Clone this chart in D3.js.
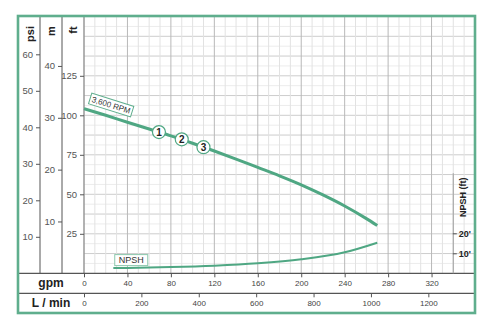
<!DOCTYPE html>
<html><head><meta charset="utf-8">
<script src="https://cdn.jsdelivr.net/npm/d3@7/dist/d3.min.js"></script>
<style>body{margin:0;background:#fff}svg{display:block;font-family:"Liberation Sans",Arial,sans-serif}</style>
</head><body>
<script>
// ---- data ----
const headGpm = [0, 20, 40, 60, 80, 100, 120, 140, 160, 180, 200, 220, 240, 260, 270];
const headFt  = [104.2, 100, 95.6, 91.3, 87, 82.3, 77.4, 72.3, 67.0, 61.7, 56.0, 49.6, 42.6, 34.6, 30.2];
const npshGpm = [27, 40, 80, 120, 160, 200, 240, 270];
const npshFt  = [2.6, 2.7, 3.1, 3.8, 5.0, 7.0, 10.5, 15.3];
const markerLabels = ["1", "2", "3"];
const markerGpm = [69, 90, 110];
const markerFt = [89.4, 84.8, 79.8];
const psiTicks = [10, 20, 30, 40, 50, 60];
const mTicks = [10, 20, 30, 40];
const ftTicks = [25, 50, 75, 100, 125];
const npshTicks = [10, 20];
const gpmTicks = [0, 40, 80, 120, 160, 200, 240, 280, 320];
const lpmTicks = [0, 200, 400, 600, 800, 1000, 1200];
const curveLabel = "3,600 RPM";
const npshLabel = "NPSH";

const W = 497, H = 332;
const green = "#5fae8d", lineGreen = "#4fa783";
const L = 18, R = 475, T = 16, B = 313, X0 = 84, YG = 273.3, YL = 293.3;
const ftMax = (YG - T) / 1.58;

const svg = d3.select("body").append("svg").attr("width", W).attr("height", H);

const x = d3.scaleLinear().domain([0, 360]).range([X0, R]);
const xL = d3.scaleLinear().domain([0, 360 * 3.785]).range([X0, R]);
const yFt = d3.scaleLinear().domain([0, ftMax]).range([YG, T]);
const yPsi = d3.scaleLinear().domain([0, ftMax / 2.31]).range([YG, T]);
const yM = d3.scaleLinear().domain([0, ftMax * 0.3048]).range([YG, T]);
const yN = d3.scaleLinear().domain([0, 10]).range([YG, YG - 20]);

// grid
const g = svg.append("g");
d3.range(6.25, ftMax, 6.25).forEach(v => {
  const major = Math.abs(v / 12.5 - Math.round(v / 12.5)) < 1e-6;
  g.append("line").attr("x1", X0).attr("x2", R).attr("y1", yFt(v)).attr("y2", yFt(v))
    .attr("stroke", major ? "#cdcdcd" : "#ececec").attr("stroke-width", 1);
});
d3.range(10, 360, 10).forEach(v => {
  const major = v % 40 === 0;
  g.append("line").attr("y1", T).attr("y2", YG).attr("x1", x(v)).attr("x2", x(v))
    .attr("stroke", major ? "#b8b8b8" : "#e2e2e2").attr("stroke-width", 1);
});

// separators
[40, 62].forEach(px => svg.append("line").attr("x1", px).attr("x2", px).attr("y1", T).attr("y2", YG)
  .attr("stroke", "#555").attr("stroke-width", 1));
svg.append("line").attr("x1", X0).attr("x2", X0).attr("y1", T).attr("y2", YG).attr("stroke", "#999").attr("stroke-width", 1.5);
[YG, YL].forEach(py => svg.append("line").attr("x1", L).attr("x2", R).attr("y1", py).attr("y2", py)
  .attr("stroke", "#555").attr("stroke-width", 1.2));

const fmt = d3.format("d");

// left axes
function leftAxis(scale, ticks, px) {
  const a = svg.append("g").attr("transform", `translate(${px},0)`)
    .call(d3.axisLeft(scale).tickValues(ticks).tickSize(4).tickPadding(3).tickFormat(fmt));
  a.select(".domain").remove();
  a.selectAll("line").attr("stroke", "#555");
  a.selectAll("text").attr("font-size", 9.5).attr("fill", "#555").attr("font-family", "Liberation Sans, Arial, sans-serif");
}
leftAxis(yPsi, psiTicks, 40);
leftAxis(yM, mTicks, 62);
leftAxis(yFt, ftTicks, X0);

[["psi", 30, 34], ["m", 51, 31], ["ft", 73, 30]].forEach(([t, cx, cy]) =>
  svg.append("text").attr("transform", `translate(${cx},${cy}) rotate(-90)`).attr("text-anchor", "middle")
    .attr("dy", "0.35em").attr("font-size", 11).attr("font-weight", "bold").attr("fill", "#222").text(t));

// bottom axes
function bottomAxis(scale, ticks, py) {
  const a = svg.append("g").attr("transform", `translate(0,${py})`)
    .call(d3.axisBottom(scale).tickValues(ticks).tickSize(4).tickPadding(3).tickFormat(fmt));
  a.select(".domain").remove();
  a.selectAll("line").attr("stroke", "#555");
  a.selectAll("text").attr("font-size", 8).attr("fill", "#444").attr("font-family", "Liberation Sans, Arial, sans-serif");
}
bottomAxis(x, gpmTicks, YG);
bottomAxis(xL, lpmTicks, YL);
svg.append("text").attr("x", 51).attr("y", 283).attr("dy", "0.35em").attr("text-anchor", "middle")
  .attr("font-size", 12).attr("font-weight", "bold").attr("fill", "#222").text("gpm");
svg.append("text").attr("x", 51).attr("y", 303).attr("dy", "0.35em").attr("text-anchor", "middle")
  .attr("font-size", 12).attr("font-weight", "bold").attr("fill", "#222").text("L / min");

// NPSH axis
svg.append("line").attr("x1", x(340)).attr("x2", x(340)).attr("y1", yN(50)).attr("y2", YG).attr("stroke", "#a8a8a8").attr("stroke-width", 1.2);
const na = svg.append("g").attr("transform", `translate(${x(340) - 0.5},0)`)
  .call(d3.axisRight(yN).tickValues(npshTicks).tickSize(4).tickPadding(2).tickFormat(d => d + "'"));
na.select(".domain").remove();
na.selectAll("line").attr("stroke", "#555");
na.selectAll("text").attr("font-size", 9).attr("font-weight", "bold").attr("fill", "#222").attr("font-family", "Liberation Sans, Arial, sans-serif");
svg.append("text").attr("transform", `translate(463,${yN(38)}) rotate(-90)`).attr("text-anchor", "middle")
  .attr("dy", "0.35em").attr("font-size", 9).attr("font-weight", "bold").attr("fill", "#222").text("NPSH (ft)");

// curves
const headLine = d3.line().x((d, i) => x(headGpm[i])).y((d, i) => yFt(headFt[i])).curve(d3.curveMonotoneX);
svg.append("path").attr("d", headLine(headGpm)).attr("fill", "none").attr("stroke", lineGreen).attr("stroke-width", 3);
const npshLine = d3.line().x((d, i) => x(npshGpm[i])).y((d, i) => yN(npshFt[i])).curve(d3.curveMonotoneX);
svg.append("path").attr("d", npshLine(npshGpm)).attr("fill", "none").attr("stroke", lineGreen).attr("stroke-width", 2);

// curve label
const ang = Math.atan2(yFt(headFt[3]) - yFt(headFt[0]), x(headGpm[3]) - x(headGpm[0])) * 180 / Math.PI;
const lg = svg.append("g").attr("transform", `translate(${x(25)},${yFt(106.5)}) rotate(${ang})`);
lg.append("rect").attr("x", -22).attr("y", -5.5).attr("width", 44).attr("height", 11)
  .attr("fill", "#fff").attr("stroke", green).attr("stroke-width", 1);
lg.append("text").attr("text-anchor", "middle").attr("dy", "0.35em").attr("font-size", 8).attr("fill", "#333").text(curveLabel);

// markers
markerLabels.forEach((t, i) => {
  const mg = svg.append("g").attr("transform", `translate(${x(markerGpm[i])},${yFt(markerFt[i])})`);
  mg.append("circle").attr("r", 6.5).attr("fill", "#fff").attr("stroke", lineGreen).attr("stroke-width", 1.2);
  mg.append("text").attr("text-anchor", "middle").attr("dy", "0.36em").attr("font-size", 10).attr("font-weight", "bold").attr("fill", "#222").text(t);
});

// NPSH label
const ng = svg.append("g").attr("transform", `translate(${x(43.5)},${yN(6.6)})`);
ng.append("rect").attr("x", -16.5).attr("y", -5.5).attr("width", 33).attr("height", 11)
  .attr("fill", "#fff").attr("stroke", "#8cc8ad").attr("stroke-width", 1);
ng.append("text").attr("text-anchor", "middle").attr("dy", "0.36em").attr("font-size", 9).attr("fill", "#333").text(npshLabel);

// border
svg.append("rect").attr("x", L).attr("y", T).attr("width", R - L).attr("height", B - T)
  .attr("fill", "none").attr("stroke", green).attr("stroke-width", 2.6);
</script>
</body></html>
